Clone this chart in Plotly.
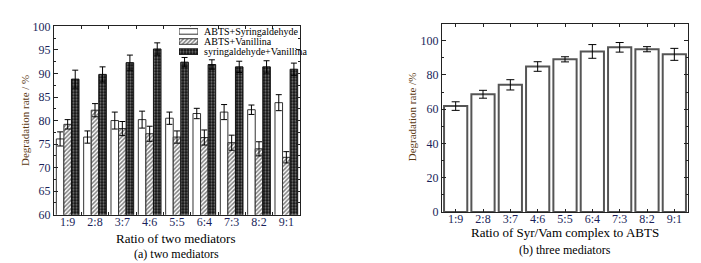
import plotly.graph_objects as go

ratios = ["1:9", "2:8", "3:7", "4:6", "5:5", "6:4", "7:3", "8:2", "9:1"]

abts_syr = [76.1, 76.5, 80.0, 80.2, 80.5, 81.5, 81.8, 82.3, 83.8]
abts_syr_err = [1.5, 1.3, 1.8, 1.8, 1.3, 1.1, 1.6, 1.0, 1.7]
abts_van = [79.2, 82.2, 78.3, 77.2, 76.5, 76.4, 75.3, 74.0, 72.2]
abts_van_err = [1.0, 1.4, 1.5, 1.6, 1.3, 1.6, 1.6, 1.5, 1.2]
syr_van = [88.8, 89.8, 92.3, 95.2, 92.4, 91.9, 91.4, 91.4, 90.9]
syr_van_err = [1.9, 1.6, 1.6, 1.3, 1.0, 1.0, 1.2, 1.3, 1.3]

three_med = [61.8, 68.7, 74.2, 84.9, 89.1, 93.7, 96.1, 95.0, 92.0]
three_med_err = [2.5, 2.3, 3.0, 2.8, 1.5, 4.0, 2.8, 1.5, 3.5]

series_names = ["ABTS+Syringaldehyde", "ABTS+Vanillina", "syringaldehyde+Vanillina"]

W, H = 701, 263
FONT = "Liberation Serif"
TICKC = "#1a1f5a"
TITLEC = "#5a3812"

styles = [
    dict(color="white", line=dict(color="#333", width=1)),
    dict(color="white", line=dict(color="#333", width=1),
         pattern=dict(shape="/", fgcolor="black", bgcolor="white", size=3, solidity=0.5)),
    dict(color="black", line=dict(color="#111", width=1),
         pattern=dict(shape=".", fgcolor="#e8e8e8", bgcolor="#111", size=3, solidity=0.4)),
]

fig = go.Figure()
err_style = dict(type="data", color="black", thickness=1, width=3, visible=True)

for vals, errs, name, st in zip([abts_syr, abts_van, syr_van],
                                [abts_syr_err, abts_van_err, syr_van_err],
                                series_names, styles):
    fig.add_trace(go.Bar(x=ratios, y=vals, name=name, showlegend=False,
                         error_y=dict(array=errs, **err_style),
                         marker=st, xaxis="x", yaxis="y"))

# legend swatches (hidden axis)
for i, (name, st) in enumerate(zip(series_names, styles)):
    fig.add_trace(go.Bar(x=[1], y=[i], orientation="h", width=0.55, name=name,
                         showlegend=False, hoverinfo="skip", marker=st,
                         xaxis="x3", yaxis="y3"))

fig.add_trace(go.Bar(
    x=ratios, y=three_med, name="three mediators", showlegend=False,
    error_y=dict(array=three_med_err, type="data", color="black", thickness=1, width=4),
    marker=dict(color="white", line=dict(color="#555", width=2)),
    width=0.85, xaxis="x2", yaxis="y2"))

def px_x(p):
    return p / W

def px_y(p):
    return 1 - p / H

axis_common = dict(
    showline=True, linecolor="#222", linewidth=1, mirror="allticks",
    ticks="inside", tickcolor="#222", showgrid=False, zeroline=False,
    tickfont=dict(family=FONT, size=12, color=TICKC),
)

fig.update_layout(
    width=W, height=H,
    margin=dict(l=0, r=0, t=0, b=0),
    paper_bgcolor="white", plot_bgcolor="white",
    barmode="group", bargap=0.17, bargroupgap=0,
    font=dict(family=FONT, size=11, color="black"),
    showlegend=False,
    xaxis=dict(domain=[px_x(46), px_x(292)], anchor="y", ticklen=3,
               tickson="boundaries", ticklabelstandoff=-4, **axis_common),
    yaxis=dict(domain=[px_y(211), px_y(12)], anchor="x", range=[60, 100],
               dtick=5, ticklen=4,
               minor=dict(ticks="inside", dtick=2.5, ticklen=2, tickcolor="#222"),
               **axis_common),
    xaxis2=dict(domain=[px_x(434), px_x(680)], anchor="y2", ticklen=3,
                ticklabelstandoff=-4, **axis_common),
    yaxis2=dict(domain=[px_y(208), px_y(9)], anchor="x2", range=[0, 110],
                dtick=20, ticklen=4,
                minor=dict(ticks="inside", dtick=10, ticklen=2, tickcolor="#222"),
                **axis_common),
    xaxis3=dict(domain=[px_x(171), px_x(190)], anchor="y3", range=[0, 1],
                visible=False, fixedrange=True),
    yaxis3=dict(domain=[px_y(44), px_y(12)], anchor="x3", range=[2.5, -0.5],
                visible=False, fixedrange=True),
)

ann = [
    dict(text="Degradation rate / %", x=px_x(17), y=px_y(112), textangle=-90,
         font=dict(size=11, color=TITLEC)),
    dict(text="Ratio of two mediators", x=px_x(168), y=px_y(236),
         font=dict(size=13, color="black")),
    dict(text="(a) two mediators", x=px_x(168), y=px_y(252),
         font=dict(size=12, color="black")),
    dict(text="Degradation rate /%", x=px_x(404), y=px_y(108), textangle=-90,
         font=dict(size=11, color=TITLEC)),
    dict(text="Ratio of Syr/Vam complex to ABTS", x=px_x(557), y=px_y(230),
         font=dict(size=13, color="black")),
    dict(text="(b) three mediators", x=px_x(557), y=px_y(248),
         font=dict(size=12, color="black")),
]
for a in ann:
    a.update(xanchor="center")
for i, name in enumerate(series_names):
    ann.append(dict(text=name, x=px_x(194), y=px_y(17 + i * 10.8),
                    xanchor="left", font=dict(size=10, color="black")))
for a in ann:
    a.update(xref="paper", yref="paper", showarrow=False, yanchor="middle")
    a["font"]["family"] = FONT
fig.update_layout(annotations=ann)

fig.write_html("out.html")
